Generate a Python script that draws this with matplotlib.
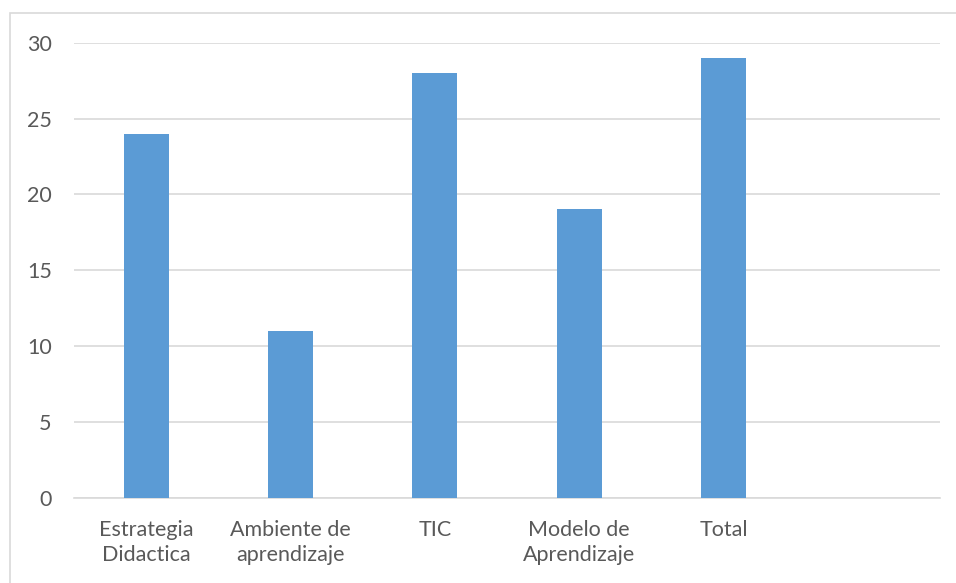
import matplotlib
matplotlib.use("Agg")
import matplotlib.pyplot as plt
from matplotlib.patches import Rectangle

categories = ["Estrategia\nDidactica", "Ambiente de\naprendizaje", "TIC",
              "Modelo de\nAprendizaje", "Total", ""]
values = [24, 11, 28, 19, 29, None]
y_ticks = [0, 5, 10, 15, 20, 25, 30]

W, H = 956, 583
plt.rcParams["font.family"] = ["Lato", "DejaVu Sans"]
fig = plt.figure(figsize=(W / 100, H / 100), dpi=100)

# chart-area frame (open on right and bottom)
fig.patches.append(Rectangle((10 / W, -0.1), 1.1, 1.1 - 13 / H,
                             transform=fig.transFigure, fill=False,
                             edgecolor="#d9d9d9", linewidth=1.2))

left, right = 74 / W, 940 / W
bottom, top = 1 - 497.5 / H, 1 - 42.7 / H
ax = fig.add_axes([left, bottom, right - left, top - bottom])

x = list(range(len(categories)))
heights = [v if v is not None else 0 for v in values]
ax.bar(x, heights, width=0.314, color="#5B9BD5", zorder=3)

ax.set_xlim(-0.5, len(categories) - 0.5)
ax.set_ylim(0, 30)
ax.set_yticks(y_ticks)
ax.set_xticks(x)
ax.set_xticklabels(categories, linespacing=1.3)

ax.yaxis.grid(True, color="#d9d9d9", linewidth=1.2, zorder=0)
ax.set_axisbelow(True)
for s in ["top", "right", "left"]:
    ax.spines[s].set_visible(False)
ax.spines["bottom"].set_color("#d9d9d9")
ax.spines["bottom"].set_linewidth(1.2)
ax.tick_params(axis="both", length=0, colors="#595959", labelsize=15.5)
ax.tick_params(axis="y", pad=16)
ax.tick_params(axis="x", pad=16)

fig.savefig("out.png", dpi=100)
